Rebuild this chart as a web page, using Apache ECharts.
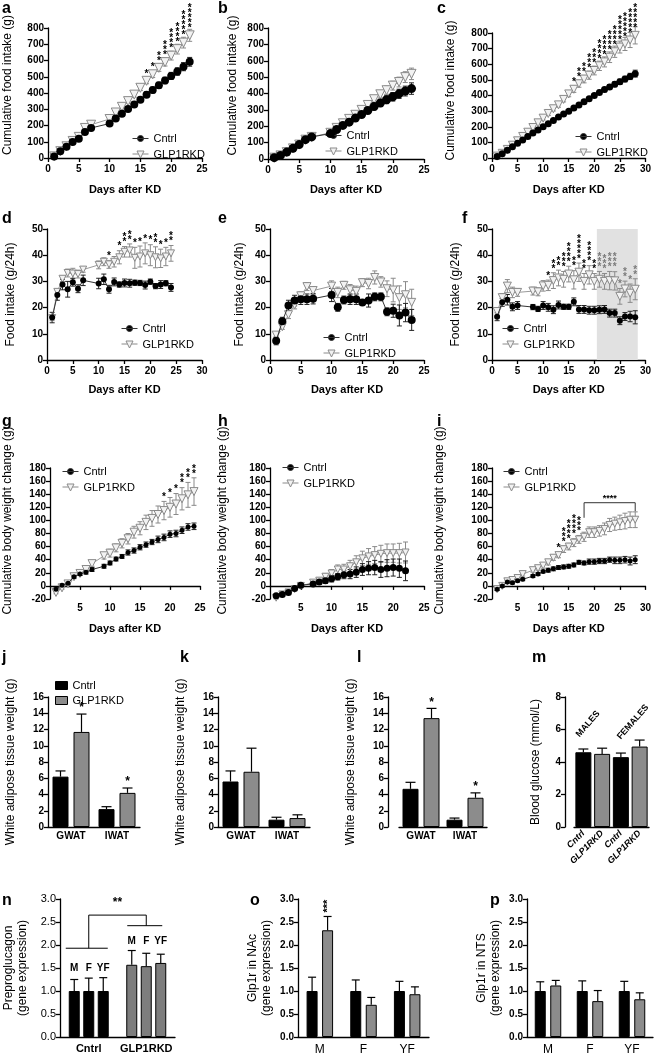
<!DOCTYPE html>
<html><head><meta charset="utf-8"><title>GLP1R KD figure</title>
<script src="https://cdn.jsdelivr.net/npm/echarts@6.0.0/dist/echarts.min.js"></script>
<style>html,body{margin:0;padding:0;background:#fff;}#chart{width:654px;height:1057px;}</style>
</head><body><div id="chart"></div>
<script>
// ================= DATA =================
// a: cumulative food intake
const aDays=[1,2,3,4,5,6,7,10,11,12,13,14,15,16,17,18,19,20,21,22,23];
const aCntrl=[10,42,70,98,118,160,185,212,243,272,302,330,358,390,418,447,477,505,532,562,592];
const aCntrlErr=[4,5,6,7,8,9,10,11,12,13,14,15,16,17,18,19,20,22,23,25,27];
const aGlp=[10,42,72,105,130,185,205,240,280,315,350,390,432,475,515,555,590,630,670,710,755];
const aGlpErr=[4,5,6,7,8,9,10,12,13,14,15,16,17,18,20,22,24,27,30,33,37];
const aStarDays=[16,17,18,19,20,21,22,23];
const aStarN=[1,1,2,3,4,4,5,5];
// b
const bDays=[1,2,3,4,5,6,7,10,11,12,13,14,15,16,17,18,19,20,21,22,23];
const bCntrl=[8,22,42,65,88,118,135,155,180,205,225,250,272,296,320,342,362,380,398,415,430];
const bCntrlErr=[2,3,4,5,6,7,8,10,12,13,14,15,17,18,20,22,24,26,28,30,35];
const bGlp=[8,22,42,65,88,118,135,160,190,218,245,270,300,330,365,395,420,448,470,500,520];
const bGlpErr=[2,3,4,5,6,7,8,10,12,13,14,15,17,18,20,22,25,27,30,33,35];
// c
const cDays=[1,2,3,4,5,6,7,8,9,10,11,12,13,14,15,16,17,18,19,20,21,22,23,24,25,26,27,28];
const cCntrl=[10,28,50,72,95,115,138,160,180,200,220,240,262,282,300,320,340,360,380,400,420,438,455,472,488,505,522,540];
const cCntrlErr=[3,3,4,4,5,5,6,6,7,7,8,8,9,9,10,10,11,11,12,12,13,14,15,16,17,18,20,22];
const cGlp=[12,30,55,82,110,138,165,195,225,255,285,315,340,375,410,440,475,505,530,560,590,615,645,680,710,730,755,785];
const cGlpErr=[3,4,5,6,7,8,9,10,11,12,13,14,15,16,18,20,22,24,26,28,30,32,34,36,38,42,48,55];
const cStarDays=[16,17,18,19,20,21,22,23,24,25,26,27,28];
const cStarN=[1,2,2,3,3,4,4,4,4,5,5,5,5];
// d: daily food intake
const dDays=[1,2,3,4,5,6,7,10,11,12,13,14,15,16,17,18,19,20,21,22,23,24];
const dCntrl=[16.2,24.8,28.8,27,29.7,27.2,30.4,29.2,30.8,27,29.8,28.8,29.4,29.3,29.5,29.4,28.6,29.9,28.2,28.8,29.3,27.7];
const dCntrlErr=[2,2,2,3,1.5,1.5,2,2,2,1.5,1.5,1,1.5,1.5,1,1,1.5,1,1,1.5,1,1.5];
const dGlp=[16,26,31,33.2,33,32.8,34.5,36.3,37.5,36.5,37.5,39.2,41.3,41.8,39,39.5,40.7,40,39.2,38.8,39.5,40.7];
const dGlpErr=[1,1,1,1.5,2,1.5,1,1.5,1.5,1.5,2,2.5,2,2.5,4,4,4,4,4,3.5,3.5,3];
const dStarDays=[12,14,15,16,17,18,19,20,21,22,23,24];
const dStarN=[1,1,2,2,1,1,1,1,2,1,1,2];
// e
const eDays=[1,2,3,4,5,6,7,10,11,12,13,14,15,16,17,18,19,20,21,22,23];
const eCntrl=[7.3,14.8,20.8,22.7,23.2,23.2,23.4,24.8,20.1,22.9,23.2,23.2,21.9,22.7,24.1,24.1,18.4,18.8,17,18.1,15.3];
const eCntrlErr=[1.5,1.5,2,2,2,2,2,2.5,1.5,1.5,2,2,1,2.5,1.5,1.5,1.5,2.5,4,3.5,4];
const eGlp=[9.5,12.7,17.3,21,24.5,28,26.5,28.2,25.8,28.5,26.8,26.2,29.5,29.2,31.5,29.8,27.2,26.7,23.8,24.9,22];
const eGlpErr=[1,1,1.5,1.5,1.5,1.5,1.5,2,2,1.5,2,2,1.5,2,2.5,2,3,4.5,4.5,5,5];
// f
const fDays=[1,2,3,4,5,8,9,10,11,12,13,14,15,16,17,18,19,20,21,22,23,24,25,26,27,28];
const fCntrl=[16.5,22,23,20.3,20.8,20.2,19.5,20.8,20.1,19.2,21,20.3,20.3,22.2,19.3,19.3,19,19,19.2,19.3,17.9,17.9,15,16.6,16.6,16.3];
const fCntrlErr=[1.5,1.5,2,1.5,1.5,1,1,1.5,1.5,1.5,1.5,1,1,1.5,1.5,1.5,1.5,1.5,1.5,1.5,1.5,1.5,1.5,1.5,2,2.5];
const fGlp=[18.5,23.8,28.2,25.8,25.8,26.3,26,28.3,28.5,30.3,31.3,30.8,32.8,30.6,33.5,30,32.5,30,30.8,30,30.3,30.2,24.3,27.1,25.5,27];
const fGlpErr=[1.5,1.5,2.5,2,1.5,1.5,1.5,2,2,3,3,3,3,3.5,3.5,3,3.5,3,3,3,3.5,3.5,3,3,3.5,4];
const fStarDays=[11,12,13,14,15,16,17,18,19,20,21,22,23,24,25,26,27,28];
const fStarN=[1,2,2,3,4,2,5,2,4,2,3,3,3,3,1,2,1,2];
// g: cumulative body weight change
const gDays=[1,2,3,4,5,6,7,9,10,11,12,13,14,15,16,17,18,19,20,21,22,23,24];
const gCntrl=[-5,1,4,14,18,21,25,30,35,41,45,51,54,59,63,67,71,74,79,80,85,90,91];
const gCntrlErr=[2,2,2,2,2,3,3,3,3,3,3,4,4,4,4,4,5,5,5,5,5,5,5];
const gGlp=[-10,-3,3,14,19,25,34,46,50,58,65,72,82,88,97,103,109,115,120,125,133,139,144];
const gGlpErr=[2,2,2,3,3,3,4,5,6,6,7,8,9,10,11,12,13,14,15,16,17,19,21];
const gStarDays=[19,20,21,22,23,24];
const gStarN=[1,1,1,2,2,2];
// h
const hDays=[1,2,3,4,5,7,8,9,10,11,12,13,14,15,16,17,18,19,20,21,22];
const hCntrl=[-15,-13,-10,-4,1,3,6,8,11,14,17,18,21,25,27,28,25,27,28,27,23];
const hCntrlErr=[2,2,2,2,2,3,3,4,5,5,6,7,8,9,10,11,12,13,13,14,15];
const hGlp=[-18,-13,-10,-5,0,5,8,14,19,25,25,30,36,42,45,47,49,50,50,50,51];
const hGlpErr=[2,2,2,2,3,3,4,5,6,7,8,9,10,11,12,13,13,14,14,15,16];
// i
const iDays=[1,2,3,4,5,6,8,9,10,11,12,13,14,15,16,17,18,19,20,21,22,23,24,25,26,27,28];
const iCntrl=[-5,0,6,5,8,10,15,18,22,24,26,28,29,30,32,36,35,37,37,38,38,40,39,39,40,38,40];
const iCntrlErr=[2,2,2,2,2,2,2,2,2,3,3,3,3,3,3,3,3,4,4,4,4,4,5,5,5,6,6];
const iGlp=[-5,0,7,9,12,18,24,27,31,36,43,47,56,60,66,71,75,82,82,84,87,93,95,97,99,101,101];
const iGlpErr=[2,2,2,3,3,3,3,3,4,4,4,4,5,5,6,6,7,8,8,8,9,10,10,11,12,12,12];
const iStarDays=[13,14,15,16,17];
const iStarN=[1,3,4,4,3];
// j, k, l: white adipose tissue weight
const watCats=['GWAT','IWAT'];
const jCntrl=[6.2,2.2], jCntrlErr=[0.7,0.3], jGlp=[11.7,4.2], jGlpErr=[2.2,0.6], jGlpSig=['*','*'];
const kCntrl=[5.6,0.9], kCntrlErr=[1.3,0.3], kGlp=[6.8,1.1], kGlpErr=[2.9,0.4], kGlpSig=['',''];
const lCntrl=[4.7,0.9], lCntrlErr=[0.8,0.2], lGlp=[13.4,3.6], lGlpErr=[1.2,0.6], lGlpSig=['*','*'];
// m: blood glucose
const mCats=['Cntrl','GLP1RKD','Cntrl','GLP1RKD'];
const mSex=['MALES','MALES','FEMALES','FEMALES'];
const mVals=[4.6,4.5,4.3,4.95], mErr=[0.2,0.35,0.25,0.4];
// n: preproglucagon
const nGroups=['Cntrl','GLP1RKD'];
const nSubs=['M','F','YF'];
const nM=[1.0,1.57], nMErr=[0.25,0.31];
const nF=[1.0,1.54], nFErr=[0.28,0.28];
const nYF=[1.0,1.61], nYFErr=[0.29,0.19];
// o, p: Glp1r expression
const opCats=['M','F','YF'];
const oCntrl=[1,1,1], oCntrlErr=[0.3,0.24,0.21], oGlp=[2.32,0.7,0.93], oGlpErr=[0.3,0.16,0.16], oGlpSig=['***','',''];
const pCntrl=[1,1,1], pCntrlErr=[0.2,0.22,0.21], pGlp=[1.12,0.78,0.82], pGlpErr=[0.11,0.23,0.14];

// ================= BUILD =================
const FONT="'Liberation Sans', Arial, Helvetica, sans-serif";
const CNTRL_ICON='path://M0,4L16,4M11,4A3,3,0,1,1,5,4A3,3,0,1,1,11,4Z';
const GLP_ICON='path://M0,3.5L5.9,3.5M10.1,3.5L16,3.5M4.5,0.5L11.5,0.5L8,7.5Z';
const grids=[],xAxes=[],yAxes=[],series=[],legends=[],graphics=[];
function ax(gi){return {gridIndex:gi,splitLine:{show:false},
  axisLine:{show:true,onZero:false,lineStyle:{color:'#000',width:1.3}},
  axisTick:{show:true,length:4,lineStyle:{color:'#000',width:1.3}},
  axisLabel:{color:'#000',fontSize:10,fontWeight:'bold',fontFamily:FONT,margin:4}};}
function nameStyle(sz,bold,pad){return {fontSize:sz,fontWeight:bold?'bold':'normal',fontFamily:FONT,color:'#000',padding:pad||0,lineHeight:sz+2};}

function errSeries(gi,pts,color,cap){
  return {type:'custom',xAxisIndex:gi,yAxisIndex:gi,z:2,silent:true,data:pts,
    renderItem:(params,api)=>{
      const x=api.value(0),y=api.value(1),e=api.value(2);
      const lo=api.coord([x,y-e]),hi=api.coord([x,y+e]);
      const st={stroke:color,lineWidth:1};
      return {type:'group',children:[
        {type:'line',shape:{x1:lo[0],y1:lo[1],x2:hi[0],y2:hi[1]},style:st},
        {type:'line',shape:{x1:lo[0]-cap,y1:lo[1],x2:lo[0]+cap,y2:lo[1]},style:st},
        {type:'line',shape:{x1:hi[0]-cap,y1:hi[1],x2:hi[0]+cap,y2:hi[1]},style:st}]};
    }};
}
function starSeries(gi,pts,gap,step){
  return {type:'custom',xAxisIndex:gi,yAxisIndex:gi,z:6,silent:true,data:pts,
    renderItem:(params,api)=>{
      const p=api.coord([api.value(0),api.value(1)]);const n=api.value(2);
      const col=api.value(3)?'#7a7a7a':'#000';const ch=[];
      for(let i=0;i<n;i++)ch.push({type:'text',style:{text:'*',x:p[0],y:p[1]-gap-i*step,
        textAlign:'center',textVerticalAlign:'middle',font:'bold 10px '+FONT,fill:col}});
      return {type:'group',children:ch};
    }};
}

function linePanel(o){
  const gi=grids.length;
  grids.push(o.grid);
  const xa=ax(gi);
  Object.assign(xa,{type:'value',min:0,max:o.xMax,interval:5,name:'Days after KD',nameLocation:'middle',
    nameGap:o.xGap,nameTextStyle:nameStyle(11,true)});
  xa.axisLabel.margin=6;
  if(o.onZero){xa.axisLine.onZero=true;xa.axisLabel.showMinLabel=false;xa.axisLabel.margin=4;}
  xAxes.push(xa);
  const ya=ax(gi);
  Object.assign(ya,{type:'value',min:o.yMin,max:o.yMax,interval:o.yInt,name:o.yName,nameLocation:'middle',
    nameGap:o.yGap,nameTextStyle:nameStyle(12,false,o.namePad)});
  yAxes.push(ya);
  const cPts=o.days.map((d,i)=>[d,o.c[i],o.ce[i]]);
  const gPts=o.days.map((d,i)=>[d,o.g[i],o.ge[i]]);
  if(o.shade){
    series.push({type:'line',data:[],xAxisIndex:gi,yAxisIndex:gi,z:0,silent:true,
      markArea:{silent:true,itemStyle:{color:'#e1e1e1'},data:[[{xAxis:o.shade[0],yAxis:o.yMin},{xAxis:o.shade[1],yAxis:o.yMax}]]}});
  }
  series.push(errSeries(gi,gPts,'#8a8a8a',2.5));
  series.push(errSeries(gi,cPts,'#222',2.5));
  series.push({type:'line',name:'GLP1RKD',xAxisIndex:gi,yAxisIndex:gi,z:3,silent:true,
    data:o.days.map((d,i)=>[d,o.g[i]]),symbol:'triangle',symbolRotate:180,symbolSize:o.gs,showSymbol:true,
    itemStyle:{color:'#f2f2f2',borderColor:'#8a8a8a',borderWidth:1},lineStyle:{color:'#9a9a9a',width:1}});
  series.push({type:'line',name:'Cntrl',xAxisIndex:gi,yAxisIndex:gi,z:4,silent:true,
    data:o.days.map((d,i)=>[d,o.c[i]]),symbol:'circle',symbolSize:o.cs,showSymbol:true,
    itemStyle:{color:'#000'},lineStyle:{color:'#333',width:1}});
  if(o.starDays){
    const pts=o.starDays.map((d,k)=>{const i=o.days.indexOf(d);
      return [d,o.g[i]+(o.starFromErr?o.ge[i]:0),o.starN[k],(o.shade&&d>o.shade[0])?1:0];});
    series.push(starSeries(gi,pts,o.starGap,5));
  }
  legends.push({left:o.legend[0],top:o.legend[1],orient:'vertical',itemWidth:16,itemHeight:8,itemGap:5,
    padding:0,selectedMode:false,
    data:[{name:'Cntrl',icon:CNTRL_ICON,itemStyle:{color:'#000',borderColor:'#333',borderWidth:1}},
          {name:'GLP1RKD',icon:GLP_ICON,itemStyle:{color:'#f2f2f2',borderColor:'#8a8a8a',borderWidth:1}}],
    textStyle:{fontSize:11,fontFamily:FONT,color:'#000'}});
  return gi;
}

linePanel({grid:{left:48,top:28,width:154,height:130},xMax:25,yMin:0,yMax:800,yInt:100,
  yName:'Cumulative food intake (g)',yGap:33,namePad:[0,0,0,16],xGap:25,
  days:aDays,c:aCntrl,ce:aCntrlErr,g:aGlp,ge:aGlpErr,cs:8,gs:9,
  starDays:aStarDays,starN:aStarN,starFromErr:false,starGap:7,legend:[132,133]});
linePanel({grid:{left:268,top:28,width:156,height:131},xMax:25,yMin:0,yMax:800,yInt:100,
  yName:'Cumulative food intake (g)',yGap:28,namePad:[0,0,0,16],xGap:24,
  days:bDays,c:bCntrl,ce:bCntrlErr,g:bGlp,ge:bGlpErr,cs:9,gs:9,legend:[325,130]});
linePanel({grid:{left:492,top:33,width:155,height:125},xMax:30,yMin:0,yMax:800,yInt:100,
  yName:'Cumulative food intake (g)',yGap:34,namePad:[0,0,0,10],xGap:25,
  days:cDays,c:cCntrl,ce:cCntrlErr,g:cGlp,ge:cGlpErr,cs:7,gs:8,
  starDays:cStarDays,starN:cStarN,starFromErr:false,starGap:7,legend:[575,131]});
linePanel({grid:{left:47,top:229,width:155,height:131},xMax:30,yMin:0,yMax:50,yInt:10,
  yName:'Food intake (g/24h)',yGap:29,xGap:23,
  days:dDays,c:dCntrl,ce:dCntrlErr,g:dGlp,ge:dGlpErr,cs:6,gs:7,
  starDays:dStarDays,starN:dStarN,starFromErr:true,starGap:4,legend:[121,323]});
linePanel({grid:{left:270,top:229,width:154,height:131},xMax:25,yMin:0,yMax:50,yInt:10,
  yName:'Food intake (g/24h)',yGap:23,xGap:23,
  days:eDays,c:eCntrl,ce:eCntrlErr,g:eGlp,ge:eGlpErr,cs:8,gs:8,legend:[323,332]});
linePanel({grid:{left:492,top:229,width:155,height:131},xMax:30,yMin:0,yMax:50,yInt:10,
  yName:'Food intake (g/24h)',yGap:29,xGap:23,shade:[20.5,28.5],
  days:fDays,c:fCntrl,ce:fCntrlErr,g:fGlp,ge:fGlpErr,cs:6,gs:8,
  starDays:fStarDays,starN:fStarN,starFromErr:true,starGap:4,legend:[502,323]});
linePanel({grid:{left:48,top:468,width:152,height:131},xMax:25,yMin:-20,yMax:180,yInt:20,onZero:true,
  yName:'Cumulative body weight change (g)',yGap:35,namePad:[0,0,0,26],xGap:23,
  days:gDays,c:gCntrl,ce:gCntrlErr,g:gGlp,ge:gGlpErr,cs:5,gs:8,
  starDays:gStarDays,starN:gStarN,starFromErr:true,starGap:4,legend:[62,466]});
linePanel({grid:{left:270,top:468,width:154,height:131},xMax:25,yMin:-20,yMax:180,yInt:20,onZero:true,
  yName:'Cumulative body weight change (g)',yGap:40,namePad:[0,0,0,26],xGap:23,
  days:hDays,c:hCntrl,ce:hCntrlErr,g:hGlp,ge:hGlpErr,cs:7,gs:7,legend:[282,462]});
const iIdx=linePanel({grid:{left:492,top:468,width:155,height:131},xMax:30,yMin:-20,yMax:180,yInt:20,onZero:true,
  yName:'Cumulative body weight change (g)',yGap:45,namePad:[0,0,0,26],xGap:23,
  days:iDays,c:iCntrl,ce:iCntrlErr,g:iGlp,ge:iGlpErr,cs:5,gs:7,
  starDays:iStarDays,starN:iStarN,starFromErr:true,starGap:4,legend:[503,466]});
// significance bracket in i (annotation)
series.push({type:'custom',xAxisIndex:iIdx,yAxisIndex:iIdx,z:6,silent:true,data:[[18,127]],
  renderItem:(params,api)=>{
    const L=api.coord([18,127]),R=api.coord([28,127]),Ld=api.coord([18,104]),Rd=api.coord([28,114]);
    const st={stroke:'#333',lineWidth:1};
    return {type:'group',children:[
      {type:'line',shape:{x1:L[0],y1:L[1],x2:R[0],y2:R[1]},style:st},
      {type:'line',shape:{x1:L[0],y1:L[1],x2:Ld[0],y2:Ld[1]},style:st},
      {type:'line',shape:{x1:R[0],y1:R[1],x2:Rd[0],y2:Rd[1]},style:st},
      {type:'text',style:{text:'****',x:(L[0]+R[0])/2,y:L[1]-4,textAlign:'center',textVerticalAlign:'middle',font:'bold 9px '+FONT,fill:'#000'}}]};
  }});

// ---- bar panels ----
function barErr(gi,vals,errs,off,cap,marks,markOpt){
  return {type:'custom',xAxisIndex:gi,yAxisIndex:gi,z:5,silent:true,
    data:vals.map((v,i)=>[i,v,errs[i]]),
    renderItem:(params,api)=>{
      const i=api.value(0),v=api.value(1),e=api.value(2);
      const b=api.coord([i,v]),t=api.coord([i,v+e]);const x=b[0]+off;
      const st={stroke:'#000',lineWidth:1.2};
      const ch=[{type:'line',shape:{x1:x,y1:b[1],x2:x,y2:t[1]},style:st},
                {type:'line',shape:{x1:x-cap,y1:t[1],x2:x+cap,y2:t[1]},style:st}];
      const m=marks&&marks[params.dataIndex];
      if(m){
        if(markOpt&&markOpt.rotate){
          ch.push({type:'text',x:x,y:t[1]-4,rotation:Math.PI/2,style:{text:m,x:0,y:0,textAlign:'left',textVerticalAlign:'middle',font:'bold 11px '+FONT,fill:'#000'}});
        }else{
          ch.push({type:'text',style:{text:m,x:x,y:t[1]-6,textAlign:'center',textVerticalAlign:'middle',font:'bold 12px '+FONT,fill:'#000'}});
        }
      }
      return {type:'group',children:ch};
    }};
}
function barPanel(o){
  const gi=grids.length;
  grids.push(o.grid);
  const xa=ax(gi);
  Object.assign(xa,{type:'category',data:o.cats});
  xa.axisTick={show:false};
  Object.assign(xa.axisLabel,{interval:0},o.xLabel||{});
  xAxes.push(xa);
  const ya=ax(gi);
  Object.assign(ya,{type:'value',min:0,max:o.yMax,interval:o.yInt,offset:o.yOffset||0,name:o.yName,
    nameLocation:'middle',nameGap:o.yGap,nameTextStyle:nameStyle(12,false,o.namePad)});
  Object.assign(ya.axisLabel,o.yLabel||{});
  yAxes.push(ya);
  const n=o.series.length;
  o.series.forEach((s,k)=>{
    series.push({type:'bar',name:s.name,xAxisIndex:gi,yAxisIndex:gi,z:3,silent:true,data:s.data,
      barWidth:o.bw,barGap:(o.gap/o.bw*100)+'%',itemStyle:{color:s.color,borderColor:'#000',borderWidth:1}});
  });
  o.series.forEach((s,k)=>{
    const off=(k-(n-1)/2)*(o.bw+o.gap);
    const vals=s.data.map(d=>typeof d==='object'?d.value:d);
    series.push(barErr(gi,vals,s.err,off,o.cap,s.marks,s.markOpt));
  });
  return gi;
}
const GREY='#8c8c8c';
barPanel({grid:{left:48,top:697,width:92,height:130},cats:watCats,yMax:16,yInt:2,
  yName:'White adipose tissue weight (g)',yGap:30,bw:16,gap:5,cap:5,
  series:[{name:'Cntrl',data:jCntrl,err:jCntrlErr,color:'#000'},{name:'GLP1RKD',data:jGlp,err:jGlpErr,color:GREY,marks:jGlpSig}]});
barPanel({grid:{left:218,top:697,width:92,height:130},cats:watCats,yMax:16,yInt:2,
  yName:'White adipose tissue weight (g)',yGap:30,bw:16,gap:5,cap:5,
  series:[{name:'Cntrl',data:kCntrl,err:kCntrlErr,color:'#000'},{name:'GLP1RKD',data:kGlp,err:kGlpErr,color:GREY,marks:kGlpSig}]});
barPanel({grid:{left:399,top:697,width:88,height:130},cats:watCats,yMax:16,yInt:2,yOffset:11,
  yName:'White adipose tissue weight (g)',yGap:30,bw:16,gap:5,cap:5,
  series:[{name:'Cntrl',data:lCntrl,err:lCntrlErr,color:'#000'},{name:'GLP1RKD',data:lGlp,err:lGlpErr,color:GREY,marks:lGlpSig}]});
const mIdx=barPanel({grid:{left:574,top:697,width:75,height:130},
  cats:mCats.map((c,i)=>c+'|'+mSex[i]),yMax:8,yInt:2,yOffset:9,
  yName:'Blood glucose (mmol/L)',yGap:22,bw:16,gap:0,cap:5,
  xLabel:{rotate:45,fontStyle:'italic',fontSize:9,margin:5,formatter:v=>v.split('|')[0]},
  series:[{name:'Blood glucose',data:mVals.map((v,i)=>({value:v,itemStyle:{color:mCats[i]==='Cntrl'?'#000':GREY}})),err:mErr}]});
// legend for j (bar icons)
legends.push({left:55,top:680,orient:'vertical',itemWidth:12,itemHeight:8,itemGap:4,padding:0,selectedMode:false,
  data:[{name:'Cntrl',icon:'rect',itemStyle:{color:'#000',borderColor:'#000',borderWidth:1}},
        {name:'GLP1RKD',icon:'rect',itemStyle:{color:GREY,borderColor:'#000',borderWidth:1}}],
  textStyle:{fontSize:11,fontFamily:FONT,color:'#000'}});

// n
const nSeriesVals=[nM,nF,nYF], nSeriesErr=[nMErr,nFErr,nYFErr];
const nIdx=barPanel({grid:{left:60,top:899,width:115,height:138},cats:nGroups,yMax:3,yInt:0.5,
  yName:'Preproglucagon\n(gene expression)',yGap:30,bw:11,gap:3.5,cap:4,
  yLabel:{fontWeight:'normal',fontSize:11,formatter:v=>v.toFixed(1)},
  xLabel:{fontSize:11,margin:6},
  series:nSubs.map((s,k)=>({name:s,data:nSeriesVals[k].map((v,g)=>({value:v,itemStyle:{color:g===0?'#000':'#7d7d7d'}})),err:nSeriesErr[k]}))});
// subgroup letters + bracket for n
series.push({type:'custom',xAxisIndex:nIdx,yAxisIndex:nIdx,z:6,silent:true,data:[[0,0]],
  renderItem:(params,api)=>{
    const ch=[];const step=11+3.5;
    nGroups.forEach((g,gi2)=>{
      let top=0;nSeriesVals.forEach((arr,k)=>{top=Math.max(top,arr[gi2]+nSeriesErr[k][gi2]);});
      nSubs.forEach((s,k)=>{
        const p=api.coord([gi2,top]);
        ch.push({type:'text',style:{text:s,x:p[0]+(k-1)*step,y:p[1]-9,textAlign:'center',textVerticalAlign:'middle',font:'bold 10px '+FONT,fill:'#000'}});
      });
    });
    const st={stroke:'#000',lineWidth:1};
    const a1=api.coord([0,1.93]),a2=api.coord([1,2.42]),t1=api.coord([0,2.65]),t2=api.coord([1,2.65]);
    ch.push({type:'line',shape:{x1:a1[0]-23,y1:a1[1],x2:a1[0]+19,y2:a1[1]},style:st});
    ch.push({type:'line',shape:{x1:a2[0]-19,y1:a2[1],x2:a2[0]+16,y2:a2[1]},style:st});
    ch.push({type:'line',shape:{x1:a1[0],y1:a1[1],x2:t1[0],y2:t1[1]},style:st});
    ch.push({type:'line',shape:{x1:t1[0],y1:t1[1],x2:t2[0],y2:t2[1]},style:st});
    ch.push({type:'line',shape:{x1:t2[0],y1:t2[1],x2:a2[0],y2:a2[1]},style:st});
    ch.push({type:'text',style:{text:'**',x:(t1[0]+t2[0])/2,y:t1[1]-12,textAlign:'center',textVerticalAlign:'middle',font:'bold 12px '+FONT,fill:'#000'}});
    return {type:'group',children:ch};
  }});
barPanel({grid:{left:298,top:899,width:131,height:138},cats:opCats,yMax:3,yInt:0.5,
  yName:'Glp1r in NAc\n(gene expression)',yGap:24,bw:11,gap:4.5,cap:4,
  yLabel:{formatter:v=>v.toFixed(1)},xLabel:{fontWeight:'normal',fontSize:12,margin:7},
  series:[{name:'Cntrl',data:oCntrl,err:oCntrlErr,color:'#000'},{name:'GLP1RKD',data:oGlp,err:oGlpErr,color:GREY,marks:oGlpSig,markOpt:{rotate:true}}]});
barPanel({grid:{left:527,top:899,width:126,height:138},cats:opCats,yMax:3,yInt:0.5,
  yName:'Glp1r in NTS\n(gene expression)',yGap:24,bw:11,gap:4.5,cap:4,
  yLabel:{formatter:v=>v.toFixed(1)},xLabel:{fontWeight:'normal',fontSize:12,margin:7},
  series:[{name:'Cntrl',data:pCntrl,err:pCntrlErr,color:'#000'},{name:'GLP1RKD',data:pGlp,err:pGlpErr,color:GREY}]});

// ---- panel letters & annotations ----
const LETTERS=[['a',2,1],['b',218,1],['c',437,1],['d',2,211],['e',218,211],['f',462,211],
  ['g',2,414],['h',218,414],['i',437,414],['j',2,650],['k',180,650],['l',357,650],['m',532,650],
  ['n',2,893],['o',250,893],['p',490,893]];
LETTERS.forEach(([t,x,y])=>graphics.push({type:'text',x:x,y:y,silent:true,
  style:{text:t,font:'bold 16px '+FONT,fill:'#000',textVerticalAlign:'top'}}));
graphics.push({type:'text',x:588,y:724,rotation:0.85,silent:true,
  style:{text:'MALES',font:'bold 9px '+FONT,fill:'#000',textAlign:'center',textVerticalAlign:'middle'}});
graphics.push({type:'text',x:633,y:722,rotation:0.85,silent:true,
  style:{text:'FEMALES',font:'bold 9px '+FONT,fill:'#000',textAlign:'center',textVerticalAlign:'middle'}});

const chart=echarts.init(document.getElementById('chart'),null,{renderer:'canvas'});
chart.setOption({animation:false,backgroundColor:'#fff',grid:grids,xAxis:xAxes,yAxis:yAxes,
  legend:legends,series:series,graphic:graphics});
</script></body></html>
